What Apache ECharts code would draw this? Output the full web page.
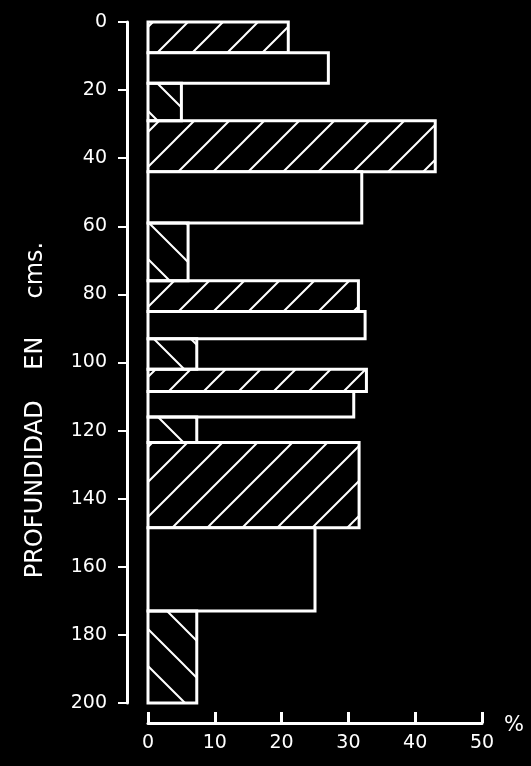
<!DOCTYPE html>
<html>
<head>
<meta charset="utf-8">
<script src="https://cdn.jsdelivr.net/npm/echarts@6/dist/echarts.min.js"></script>
<style>
  html, body { margin: 0; padding: 0; background: #000; }
  #chart { width: 531px; height: 766px; }
</style>
</head>
<body>
<div id="chart"></div>
<script>
// capas del perfil: profundidad (cm) y porcentaje
var depthTop    = [0, 9, 18, 29, 44, 59, 76, 85, 93, 102, 108.5, 116, 123.5, 148.5, 173];
var depthBottom = [9, 18, 29, 44, 59, 76, 85, 93, 102, 108.5, 116, 123.5, 148.5, 173, 200];
var percent     = [21, 27, 5, 43, 32, 6, 31.5, 32.5, 7.3, 32.7, 30.8, 7.3, 31.6, 25, 7.3];
// 'fwd' = rayado /, 'back' = rayado \, 'none' = vacío
var hatch = ['fwd', 'none', 'back', 'fwd', 'none', 'back', 'fwd', 'none', 'back',
             'fwd', 'none', 'back', 'fwd', 'none', 'back'];
var depthTicks = [0, 20, 40, 60, 80, 100, 120, 140, 160, 180, 200];
var pctTicks = [0, 10, 20, 30, 40, 50];

function makePattern(size, dir) {
  var c = document.createElement('canvas');
  c.width = size;
  c.height = size;
  var ctx = c.getContext('2d');
  ctx.strokeStyle = '#fff';
  ctx.lineWidth = 2;
  ctx.beginPath();
  if (dir === 'fwd') {
    ctx.moveTo(-2, size + 2); ctx.lineTo(size + 2, -2);
    ctx.moveTo(-2, 2); ctx.lineTo(2, -2);
    ctx.moveTo(size - 2, size + 2); ctx.lineTo(size + 2, size - 2);
  } else {
    ctx.moveTo(-2, -2); ctx.lineTo(size + 2, size + 2);
    ctx.moveTo(size - 2, -2); ctx.lineTo(size + 2, 2);
    ctx.moveTo(-2, size - 2); ctx.lineTo(2, size + 2);
  }
  ctx.stroke();
  return { image: c, repeat: 'repeat' };
}

var fills = {
  fwd: makePattern(35, 'fwd'),
  back: makePattern(37, 'back'),
  none: '#000'
};

var layers = depthTop.map(function (t, i) {
  return [t, depthBottom[i], percent[i], i];
});

var chart = echarts.init(document.getElementById('chart'));
var font = 'DejaVu Sans';

chart.setOption({
  backgroundColor: '#000',
  animation: false,
  grid: { left: 148, right: 49, top: 22, bottom: 63 },
  xAxis: {
    type: 'value',
    min: 0,
    max: 50,
    interval: 10,
    offset: 20,
    axisLine: { show: true, onZero: false, lineStyle: { color: '#fff', width: 3 } },
    axisTick: { show: true, inside: true, length: 11, lineStyle: { color: '#fff', width: 3 } },
    axisLabel: {
      color: '#fff', fontFamily: font, fontSize: 19, margin: 11,
      formatter: function (v) { return pctTicks.indexOf(v) >= 0 ? String(v) : ''; }
    },
    splitLine: { show: false }
  },
  yAxis: {
    type: 'value',
    inverse: true,
    min: 0,
    max: 200,
    interval: 20,
    offset: 21,
    axisLine: { show: true, onZero: false, lineStyle: { color: '#fff', width: 3 } },
    axisTick: { show: true, length: 9, lineStyle: { color: '#fff', width: 2 } },
    axisLabel: {
      color: '#fff', fontFamily: font, fontSize: 19, margin: 20,
      formatter: function (v) { return depthTicks.indexOf(v) >= 0 ? String(v) : ''; }
    },
    splitLine: { show: false }
  },
  series: [{
    type: 'custom',
    data: layers,
    encode: { x: 2, y: [0, 1] },
    renderItem: function (params, api) {
      var p0 = api.coord([0, api.value(0)]);
      var p1 = api.coord([api.value(2), api.value(1)]);
      var kind = hatch[api.value(3)];
      return {
        type: 'rect',
        shape: { x: p0[0], y: p0[1], width: p1[0] - p0[0], height: p1[1] - p0[1] },
        style: { fill: fills[kind], stroke: '#fff', lineWidth: 3 }
      };
    }
  }],
  graphic: [
    {
      type: 'text',
      x: 36, y: 410,
      rotation: Math.PI / 2,
      style: {
        text: 'PROFUNDIDAD    EN     cms.',
        fill: '#fff',
        font: '24px "DejaVu Sans"',
        align: 'center',
        verticalAlign: 'middle'
      }
    },
    {
      type: 'text',
      x: 514, y: 726,
      style: { text: '%', fill: '#fff', font: '21px "DejaVu Sans"', align: 'center', verticalAlign: 'middle' }
    }
  ]
});
</script>
</body>
</html>
